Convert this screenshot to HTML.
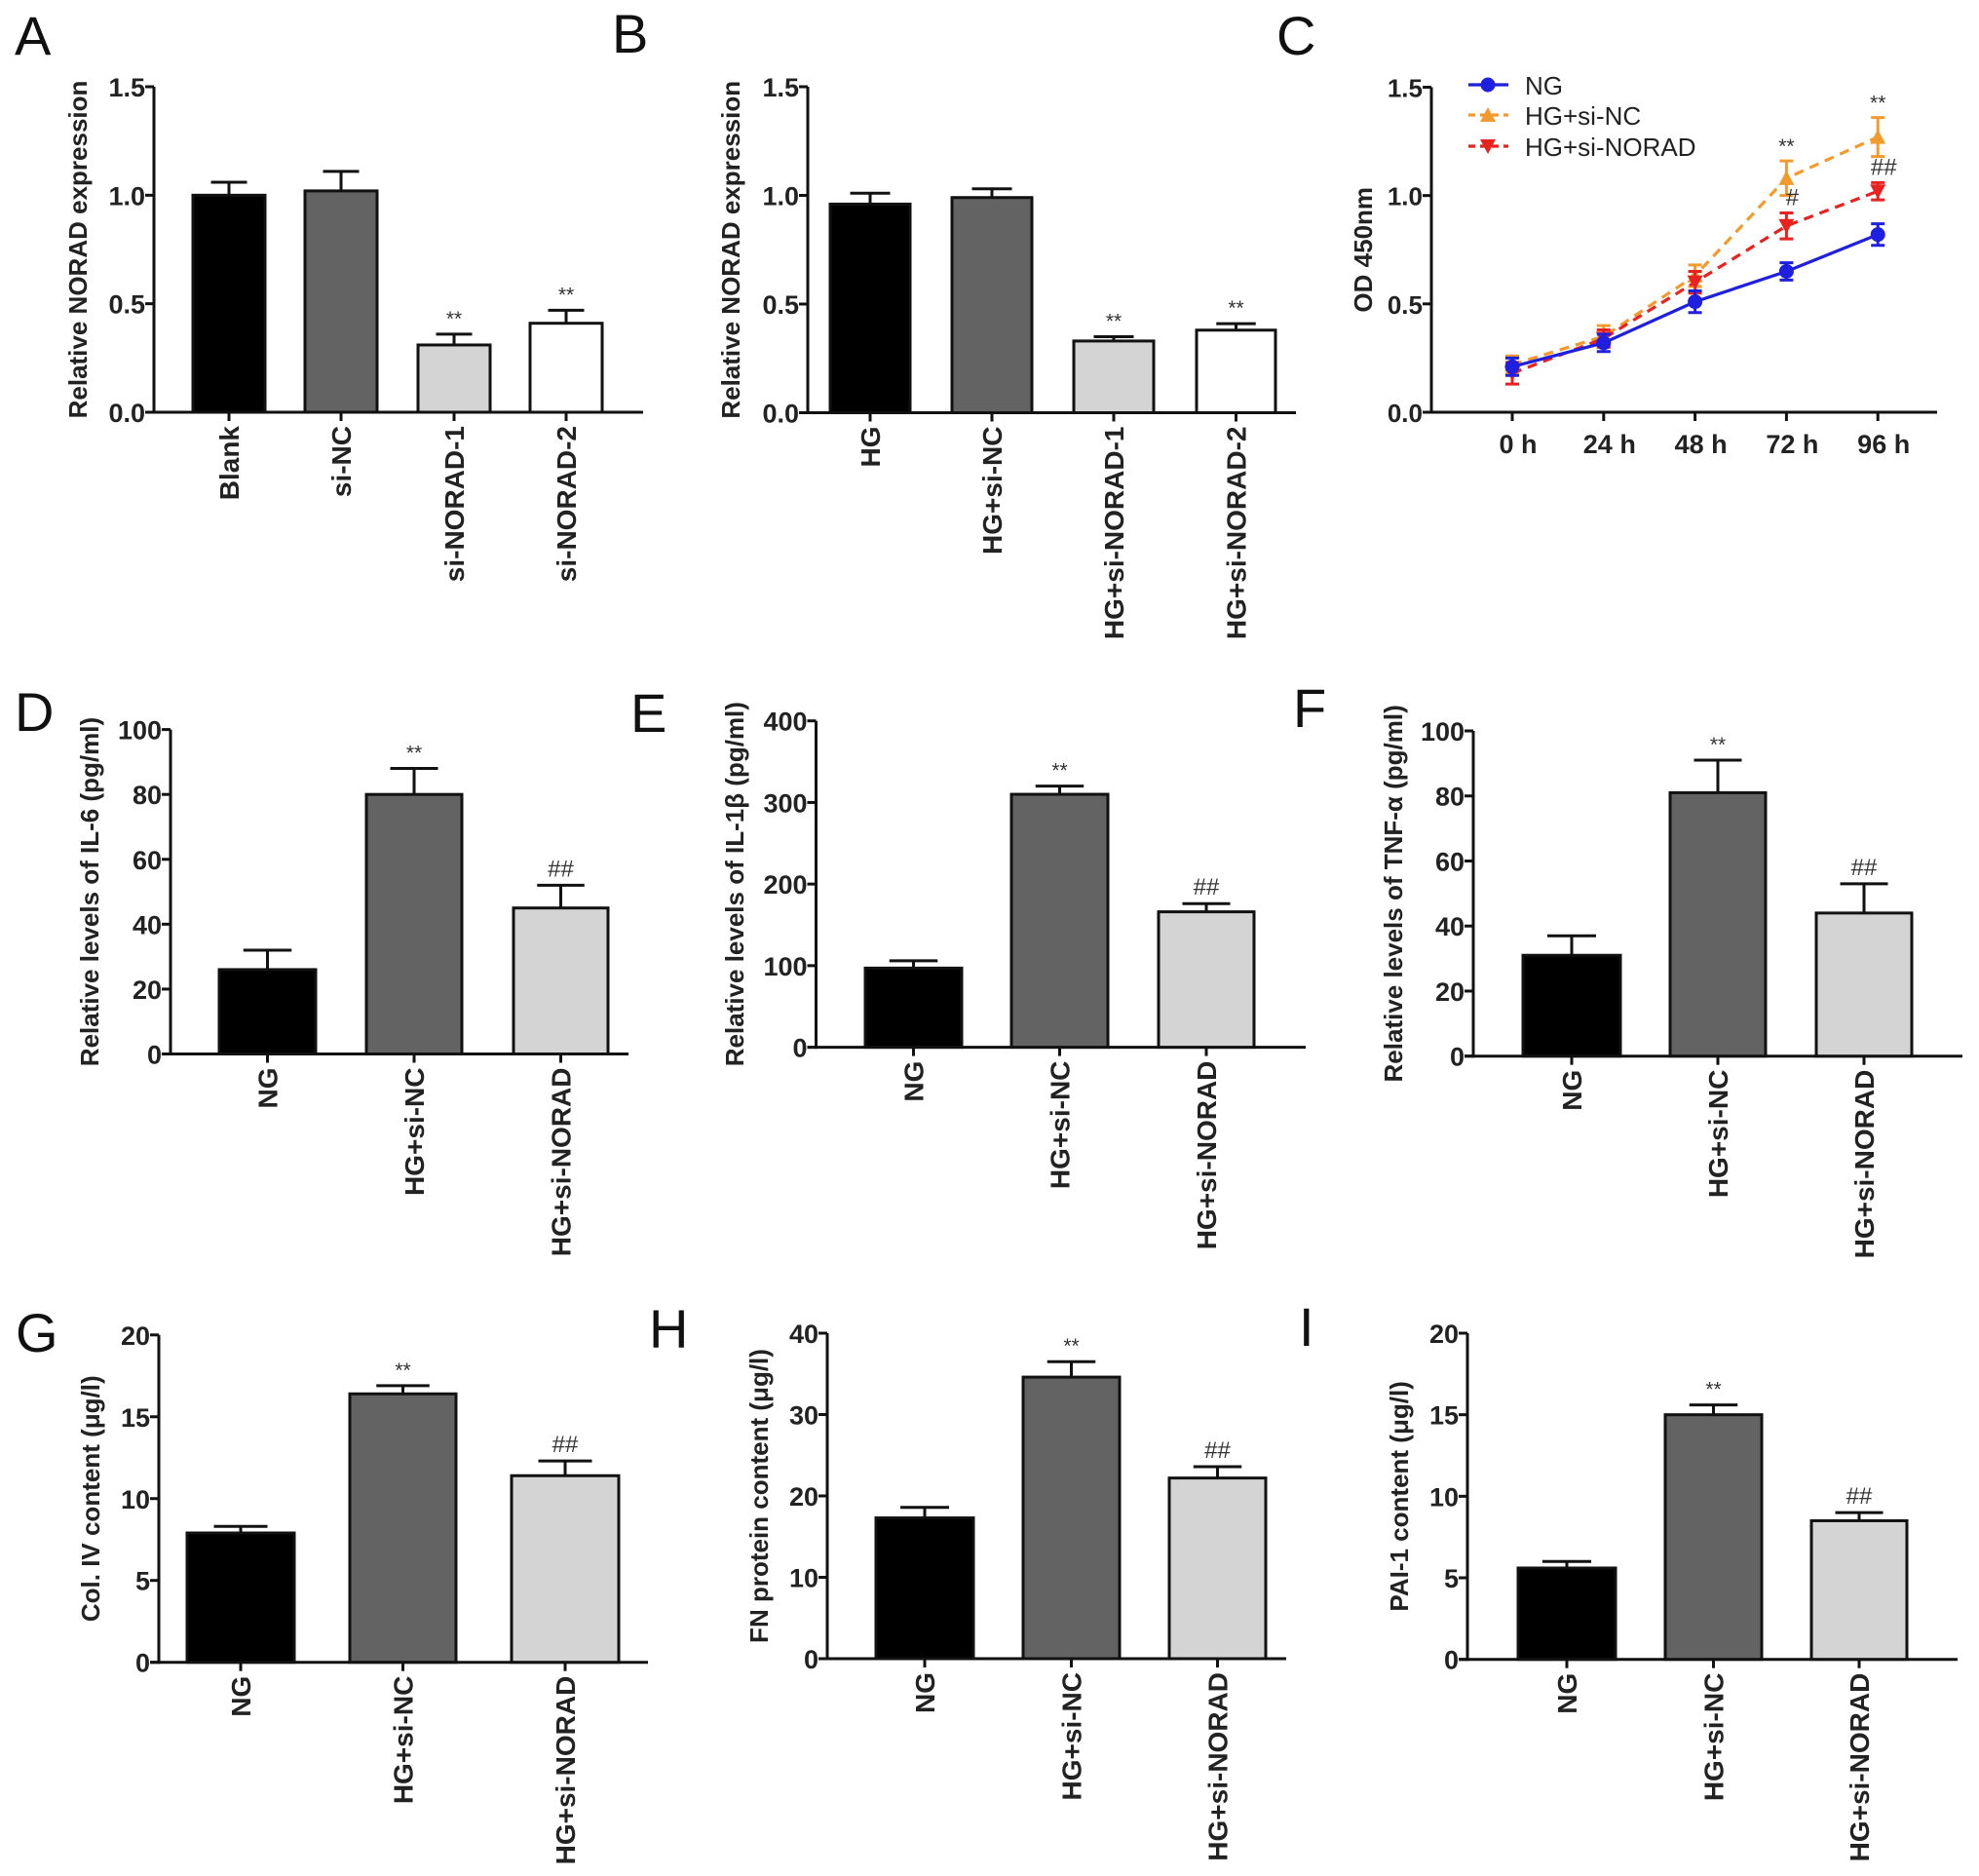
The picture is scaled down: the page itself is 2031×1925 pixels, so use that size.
<!DOCTYPE html>
<html><head><meta charset="utf-8"><style>
html,body{margin:0;padding:0;background:#fff}
svg{display:block}
text{font-family:"Liberation Sans",Arial,sans-serif}
</style></head><body>
<svg id="fig" width="2031" height="1925" viewBox="0 0 2031 1925" xmlns="http://www.w3.org/2000/svg"></svg>
<script>
// ---- data ----
const catsA = ["Blank","si-NC","si-NORAD-1","si-NORAD-2"];
const valsA = [1.0,1.02,0.31,0.41];
const errsA = [0.06,0.09,0.05,0.06];
const sigA = ["","","**","**"];
const catsB = ["HG","HG+si-NC","HG+si-NORAD-1","HG+si-NORAD-2"];
const valsB = [0.96,0.99,0.33,0.38];
const errsB = [0.05,0.04,0.02,0.03];
const sigB = ["","","**","**"];
const timeCats = ["0 h","24 h","48 h","72 h","96 h"];
const ngVals = [0.21,0.32,0.51,0.65,0.82];
const ngErrs = [0.04,0.04,0.05,0.04,0.05];
const ncVals = [0.22,0.35,0.63,1.08,1.27];
const ncErrs = [0.04,0.05,0.05,0.08,0.09];
const siVals = [0.18,0.34,0.60,0.86,1.02];
const siErrs = [0.05,0.04,0.05,0.06,0.04];
const grpCats = ["NG","HG+si-NC","HG+si-NORAD"];
const valsD = [26,80,45], errsD=[6,8,7];
const valsE = [97,310,166], errsE=[9,10,10];
const valsF = [31,81,44], errsF=[6,10,9];
const valsG = [7.9,16.4,11.4], errsG=[0.4,0.5,0.9];
const valsH = [17.3,34.6,22.2], errsH=[1.3,1.9,1.4];
const valsI = [5.6,15.0,8.5], errsI=[0.4,0.6,0.5];
const sig3 = ["","**","##"];
const ticks15 = [0,0.5,1.0,1.5], ticks15L=["0.0","0.5","1.0","1.5"];
const ticks100 = [0,20,40,60,80,100];
const ticks400 = [0,100,200,300,400];
const ticks20 = [0,5,10,15,20];
const ticks40 = [0,10,20,30,40];

const NS="http://www.w3.org/2000/svg";
const svg=document.getElementById('fig');
function mk(tag,attrs,parent,txt){const e=document.createElementNS(NS,tag);for(const k in attrs)e.setAttribute(k,attrs[k]);if(txt!==undefined)e.textContent=txt;(parent||svg).appendChild(e);return e;}
const CF=28, SW=3;

function axes(g,p){
  const TF=p.tf||27;
  const y=v=>p.y0-(v/p.max)*(p.y0-p.yTop);
  const ax=mk('line',{x1:p.ax,y1:p.yTop,x2:p.ax,y2:p.y0+1.5,stroke:'#111','stroke-width':SW},g);
  
  
  const xa=mk('line',{x1:p.ax-9,y1:p.y0,x2:p.xEnd,y2:p.y0,stroke:'#111','stroke-width':SW},g);
  
  
  p.ticks.forEach((t,i)=>{
    mk('line',{x1:p.ax-9,y1:y(t),x2:p.ax,y2:y(t),stroke:'#111','stroke-width':SW},g);
    const tl=mk('text',{x:p.ax-9,y:y(t)+10,'text-anchor':'end','font-size':TF,'font-weight':'bold',fill:'#222'},g,p.tickL?p.tickL[i]:String(t));
    
    
  });
  const yc=(p.y0+p.yTop)/2;
  const tt=mk('text',{x:p.titleX,y:yc,transform:`rotate(-90 ${p.titleX} ${yc})`,'text-anchor':'middle','font-size':p.titleF||26,'font-weight':'bold',fill:'#222','xml:space':'preserve'},g,p.title);
  
  
  const pl=mk('text',{x:p.letterX,y:p.letterY,'font-size':56,fill:'#111'},g,p.letter);
  
  
  return y;
}

function barPanel(p){
  const g=mk('g',{});
  
  
  const y=axes(g,p);
  p.cats.forEach((c,i)=>{
    const l=p.lefts[i], r=p.rights[i], cx=(l+r)/2, bw=r-l;
    const top=y(p.vals[i]), et=y(p.vals[i]+p.errs[i]);
    const cw=bw*0.25;
    mk('line',{x1:cx,y1:top,x2:cx,y2:et,stroke:'#111','stroke-width':SW},g);
    mk('line',{x1:cx-cw,y1:et,x2:cx+cw,y2:et,stroke:'#111','stroke-width':SW},g);
    const b=mk('rect',{x:l,y:top,width:bw,height:p.y0-top,fill:p.fills[i],stroke:'#111','stroke-width':SW},g);
    
    
    mk('line',{x1:cx,y1:p.y0,x2:cx,y2:p.y0+9,stroke:'#111','stroke-width':SW},g);
    const lx=cx+10, ly=p.y0+14;
    const cl=mk('text',{x:lx,y:ly,transform:`rotate(-90 ${lx} ${ly})`,'text-anchor':'end','font-size':CF,'font-weight':'bold',fill:'#222'},g,c);
    
    
    if(p.sig[i]){
      const s=mk('text',{x:cx,y:et-9,'text-anchor':'middle','font-size':p.sig[i]=='**'?21:24,fill:'#333'},g,p.sig[i]);
      
      
    }
  });
}
const F4=['#000','#636363','#d4d4d4','#fff'], F3=['#000','#636363','#d4d4d4'];
barPanel({letter:'A',letterX:15,letterY:56,ax:158,y0:423,yTop:89,max:1.5,xEnd:660,ticks:ticks15,tickL:ticks15L,title:'Relative NORAD expression',titleX:89,cats:catsA,vals:valsA,errs:errsA,sig:sigA,lefts:[198,313,429,544],rights:[272,387,503,618],fills:F4});
barPanel({letter:'B',letterX:628,letterY:54,ax:829,y0:423.5,yTop:89,max:1.5,xEnd:1330,ticks:ticks15,tickL:ticks15L,title:'Relative  NORAD  expression',titleX:759,cats:catsB,vals:valsB,errs:errsB,sig:sigB,lefts:[852,977,1102,1228],rights:[934,1059,1184,1309],fills:F4});
barPanel({letter:'D',letterX:15,letterY:750,ax:175,y0:1081.5,yTop:748.6,max:100,xEnd:645,ticks:ticks100,title:'Relative levels of IL-6 (pg/ml)',titleX:101,cats:grpCats,vals:valsD,errs:errsD,sig:sig3,lefts:[225,376,527],rights:[324,474,624],fills:F3});
barPanel({letter:'E',letterX:647,letterY:751,ax:837.5,y0:1074.6,yTop:739.7,max:400,xEnd:1340,ticks:ticks400,title:'Relative levels of IL-1β (pg/ml)',titleX:763,cats:grpCats,vals:valsE,errs:errsE,sig:sig3,lefts:[888,1038,1189],rights:[987,1137,1287],fills:F3});
barPanel({letter:'F',letterX:1327,letterY:746,ax:1512,y0:1083.7,yTop:750,max:100,xEnd:2014,ticks:ticks100,title:'Relative levels of TNF-α (pg/ml)',titleX:1439,cats:grpCats,vals:valsF,errs:errsF,sig:sig3,lefts:[1563,1714,1864],rights:[1663,1812,1962],fills:F3});
barPanel({letter:'G',letterX:16,letterY:1387,ax:163,y0:1705.7,yTop:1369.8,max:20,xEnd:665,ticks:ticks20,title:'Col. IV content (μg/l)',titleX:102,cats:grpCats,vals:valsG,errs:errsG,sig:sig3,lefts:[192,359,525],rights:[302,468,635],fills:F3});
barPanel({letter:'H',letterX:666,letterY:1383,ax:849,y0:1702,yTop:1368,max:40,xEnd:1320,ticks:ticks40,title:'FN protein content (μg/l)',titleX:788,cats:grpCats,vals:valsH,errs:errsH,sig:sig3,lefts:[899,1050,1200],rights:[999,1149,1299],fills:F3});
barPanel({letter:'I',letterX:1333,letterY:1381,ax:1506,y0:1702.7,yTop:1368,max:20,xEnd:2009,ticks:ticks20,title:'PAI-1 content (μg/l)',titleX:1445,cats:grpCats,vals:valsI,errs:errsI,sig:sig3,lefts:[1558,1709,1859],rights:[1658,1808,1957],fills:F3});

// Panel C line chart
(function(){
  const p={letter:'C',letterX:1310,letterY:56,ax:1469,y0:423,yTop:89.5,max:1.5,xEnd:1988,ticks:ticks15,tickL:ticks15L,title:'OD 450nm',titleX:1408,tf:26};
  const g=mk('g',{});
  
  
  const y=axes(g,p);
  const x=i=>1552+i*93.8;
  timeCats.forEach((t,i)=>{
    mk('line',{x1:x(i),y1:p.y0,x2:x(i),y2:p.y0+9,stroke:'#111','stroke-width':SW},g);
    const tl=mk('text',{x:x(i)+6,y:p.y0+42,'text-anchor':'middle','font-size':27,'font-weight':'bold',fill:'#222'},g,t);
    
    
  });
  const series=[
    {name:'HG+si-NC',vals:ncVals,errs:ncErrs,color:'#f39a2e',dash:'10,7',m:'up'},
    {name:'HG+si-NORAD',vals:siVals,errs:siErrs,color:'#e8231f',dash:'10,7',m:'down'},
    {name:'NG',vals:ngVals,errs:ngErrs,color:'#1f1fe0',dash:'',m:'circle'}
  ];
  function marker(kind,cx,cy,color,parent){
    if(kind=='circle') return mk('circle',{cx:cx,cy:cy,r:7.5,fill:color},parent);
    if(kind=='up') return mk('path',{d:`M${cx},${cy-8} L${cx+8},${cy+7} L${cx-8},${cy+7}Z`,fill:color},parent);
    return mk('path',{d:`M${cx},${cy+8} L${cx+8},${cy-7} L${cx-8},${cy-7}Z`,fill:color},parent);
  }
  series.forEach(s=>{
    const sg=mk('g',{},g);
    
    
    const pts=s.vals.map((v,i)=>x(i)+','+y(v)).join(' ');
    const pl=mk('polyline',{points:pts,fill:'none',stroke:s.color,'stroke-width':3.2,'stroke-dasharray':s.dash},sg);
    
    
    s.vals.forEach((v,i)=>{
      const hi=y(v+s.errs[i]), lo=y(v-s.errs[i]);
      mk('path',{d:`M${x(i)},${hi}V${lo}M${x(i)-7},${hi}H${x(i)+7}M${x(i)-7},${lo}H${x(i)+7}`,stroke:s.color,'stroke-width':3,fill:'none'},sg);
      const m=marker(s.m,x(i),y(v),s.color,sg);
      
      
    });
  });
  const sigs=[[3,ncVals[3]+ncErrs[3],'**'],[4,ncVals[4]+ncErrs[4],'**'],[3,siVals[3]+siErrs[3],'#'],[4,siVals[4]+siErrs[4],'##']];
  sigs.forEach(s=>{
    const t=mk('text',{x:x(s[0])+(s[2].startsWith('#')?6:0),y:y(s[1])-8,'text-anchor':'middle','font-size':s[2]=='**'?21:24,fill:'#333'},g,s[2]);
    
    
  });
  const leg=[['NG','#1f1fe0','','circle'],['HG+si-NC','#f39a2e','7,5','up'],['HG+si-NORAD','#e8231f','7,5','down']];
  const legY=[87,118,150];
  leg.forEach((l,i)=>{
    const ly=legY[i];
    const lg=mk('g',{},g);
    
    
    mk('line',{x1:1507,y1:ly,x2:1548,y2:ly,stroke:l[1],'stroke-width':3.2,'stroke-dasharray':l[2]},lg);
    marker(l[3],1527,ly,l[1],lg);
    mk('text',{x:1565,y:ly+10,'font-size':26,fill:'#222'},lg,l[0]);
  });
})();
</script>
</body></html>
